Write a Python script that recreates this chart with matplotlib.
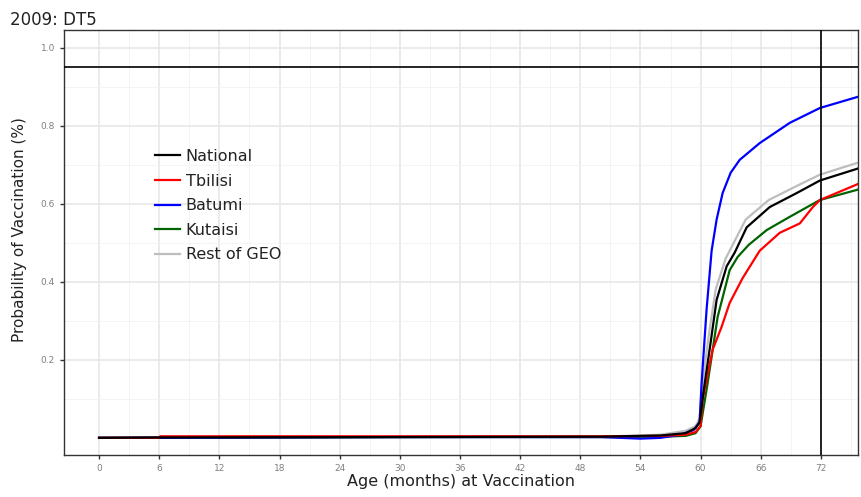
import numpy as np
import matplotlib
matplotlib.use("Agg")
import matplotlib.pyplot as plt

# Cumulative probability of DT5 vaccination by age (months), 2009 birth cohort
age_nat = [0, 6, 30, 50, 56, 58.5, 59.5, 59.9, 60.3, 60.9, 61.6, 62.6, 63.4, 64.6, 66.9, 69.6, 71.9, 75.6, 76]
p_nat   = [0.0, 0.001, 0.002, 0.003, 0.006, 0.012, 0.025, 0.04, 0.12, 0.226, 0.354, 0.44, 0.475, 0.54, 0.592, 0.628, 0.66, 0.69, 0.694]

age_tbs = [0, 6, 6.1, 30, 50, 56, 58.5, 59.5, 60.0, 60.2, 61.2, 62.1, 62.9, 64.2, 65.9, 67.9, 69.9, 71.2, 71.9, 75.6, 76]
p_tbs   = [0.0, 0.0, 0.004, 0.004, 0.004, 0.005, 0.008, 0.015, 0.03, 0.097, 0.226, 0.285, 0.346, 0.41, 0.48, 0.526, 0.55, 0.592, 0.61, 0.65, 0.655]

age_bat = [0, 30, 50, 54, 56, 58, 59.3, 59.9, 60.1, 60.6, 61.1, 61.6, 62.2, 63.0, 63.9, 65.9, 68.9, 71.9, 75.6, 76]
p_bat   = [0.0, 0.002, 0.002, -0.002, 0.0, 0.008, 0.02, 0.04, 0.14, 0.33, 0.48, 0.56, 0.628, 0.68, 0.713, 0.756, 0.808, 0.846, 0.874, 0.877]

age_kut = [0, 30, 50, 56, 58.5, 59.5, 60.0, 60.7, 61.7, 62.9, 63.7, 64.8, 66.6, 68.9, 71.9, 75.6, 76]
p_kut   = [0.0, 0.002, 0.002, 0.003, 0.005, 0.012, 0.03, 0.14, 0.31, 0.43, 0.464, 0.495, 0.533, 0.567, 0.61, 0.636, 0.64]

age_rst = [0, 30, 50, 56, 58.5, 59.5, 59.9, 60.2, 60.8, 61.5, 62.5, 63.3, 64.5, 66.8, 69.5, 71.9, 75.6, 76]
p_rst   = [0.0, 0.002, 0.003, 0.008, 0.018, 0.03, 0.05, 0.14, 0.26, 0.38, 0.46, 0.5, 0.56, 0.61, 0.645, 0.675, 0.705, 0.708]

series = [
    ("National", age_nat, p_nat, "black"),
    ("Tbilisi", age_tbs, p_tbs, "red"),
    ("Batumi", age_bat, p_bat, "blue"),
    ("Kutaisi", age_kut, p_kut, "darkgreen"),
    ("Rest of GEO", age_rst, p_rst, "#bdbdbd"),
]

target_level = 0.95
target_age = 72

x_major = list(range(0, 73, 6))
x_minor = list(range(3, 76, 6))
y_major = [0.2, 0.4, 0.6, 0.8, 1.0]
y_minor = [0.1, 0.3, 0.5, 0.7, 0.9]

fig = plt.figure(figsize=(8.61, 4.97), dpi=100)
ax = fig.add_axes([0.0743, 0.0845, 0.9222, 0.8551])

for v in x_major:
    ax.axvline(v, color="#e6e6e6", lw=1.1, zorder=0)
for v in x_minor:
    ax.axvline(v, color="#f2f2f2", lw=0.6, zorder=0)
for v in y_major:
    ax.axhline(v, color="#e6e6e6", lw=1.1, zorder=0)
for v in y_minor:
    ax.axhline(v, color="#f2f2f2", lw=0.6, zorder=0)

# draw in reverse so National sits on top
for name, a, p, c in reversed(series):
    ax.plot(a, p, color=c, lw=1.6, label=name, zorder=2)

ax.axhline(target_level, color="black", lw=1.2, zorder=3)
ax.axvline(target_age, color="black", lw=1.2, zorder=3)

ax.set_xlim(-3.5, 75.7)
ax.set_ylim(-0.044, 1.046)
ax.set_xticks(x_major)
ax.set_xticklabels([str(v) for v in x_major])
ax.set_yticks(y_major)
ax.set_yticklabels([f"{v:.1f}" for v in y_major])
ax.tick_params(axis="both", labelsize=6.5, labelcolor="#7f7f7f", color="#333333",
               length=3, width=1)

for s in ax.spines.values():
    s.set_color("#333333")
    s.set_linewidth(1.0)

ax.set_xlabel("Age (months) at Vaccination", fontsize=11.5, color="#222222", labelpad=1)
ax.set_ylabel("Probability of Vaccination (%)", fontsize=11, color="#222222")
ax.yaxis.set_label_coords(-0.046, 0.53)
fig.text(0.012, 0.978, "2009: DT5", fontsize=12, color="#222222", va="top", ha="left")

handles, labels = ax.get_legend_handles_labels()
order = [labels.index(n) for n, *_ in series]
leg = ax.legend([handles[i] for i in order], [labels[i] for i in order],
                loc="upper left", bbox_to_anchor=(0.107, 0.735), frameon=False,
                fontsize=11.5, handlelength=1.56, labelspacing=0.6, handletextpad=0.35,
                borderaxespad=0.0)
for t in leg.get_texts():
    t.set_color("#222222")

fig.savefig("out.png", dpi=100)
